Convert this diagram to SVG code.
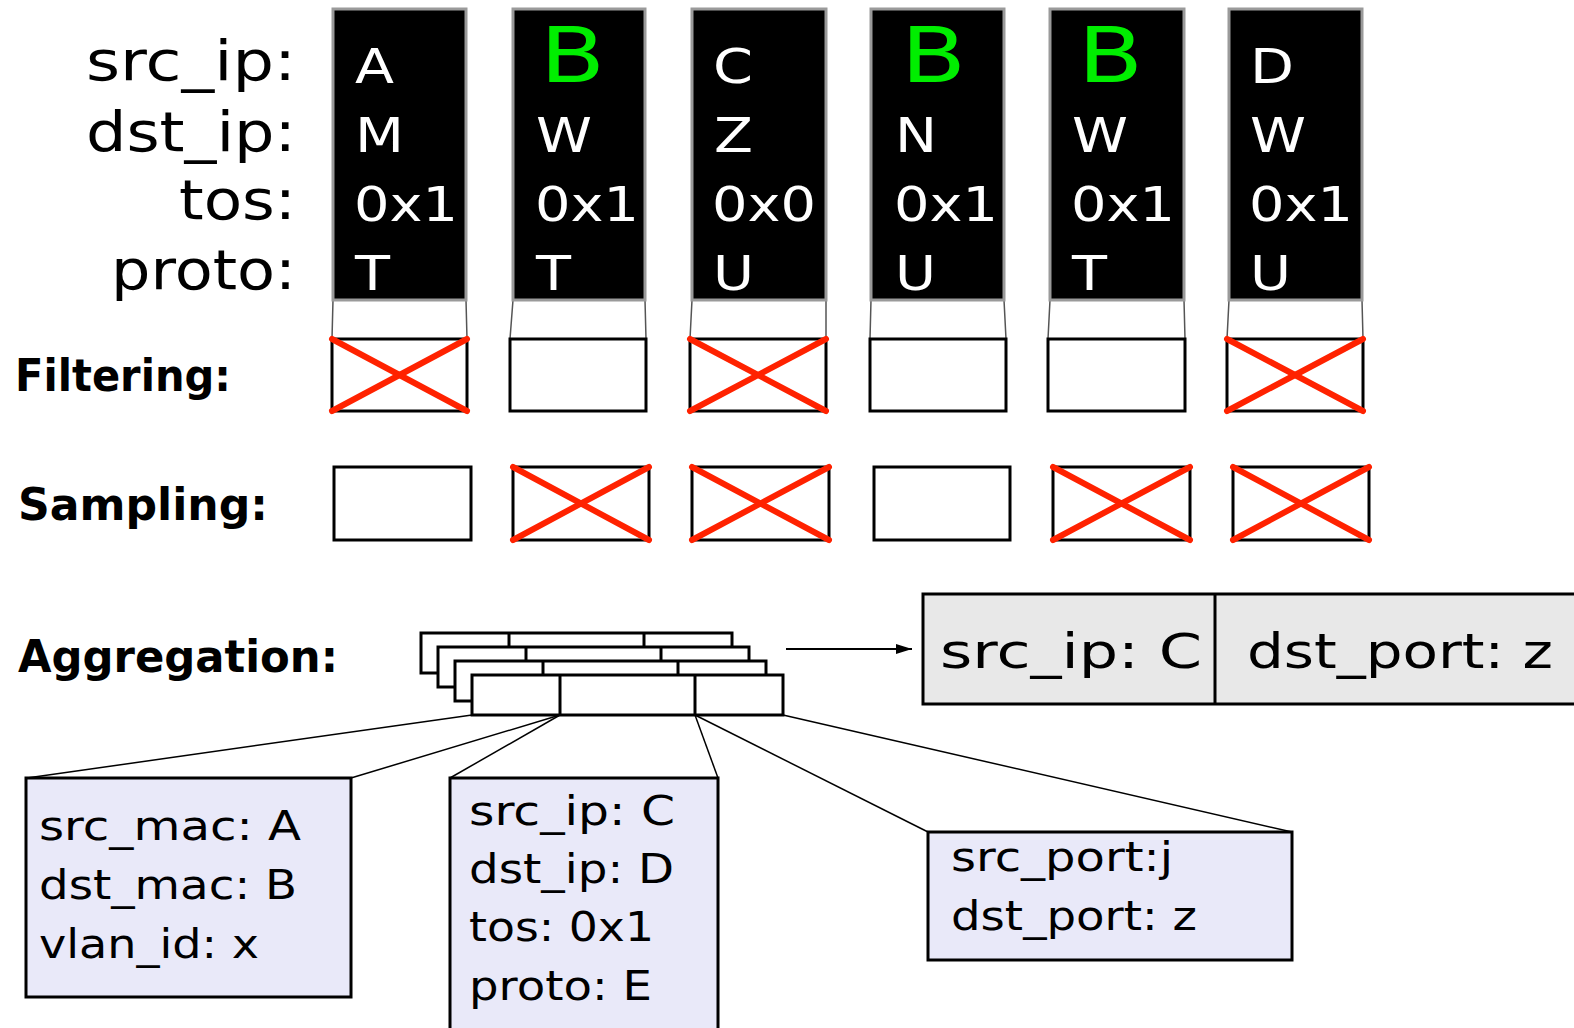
<svg xmlns="http://www.w3.org/2000/svg" width="1574" height="1028" viewBox="0 0 1574 1028">
<style>
text{font-family:"DejaVu Sans","Liberation Sans",sans-serif;}
.lbl{font-size:56px;fill:#000;text-anchor:end;}
.bold{font-size:45px;font-weight:bold;fill:#000;}
.pk{font-size:48px;fill:#fff;}
.gb{font-size:76px;fill:#00ee00;}
.bx{font-size:41px;fill:#000;}
.agg{font-size:48px;fill:#000;}
.blk{fill:#000;stroke:#9a9a9a;stroke-width:3;}
.trap{fill:#fff;stroke:#555;stroke-width:1.5;}
.box{fill:#fff;stroke:#000;stroke-width:3;}
.x{stroke:#ff2200;stroke-width:6;stroke-linecap:round;}
.info{fill:#e9e9f9;stroke:#000;stroke-width:3;}
.conn{stroke:#000;stroke-width:1.5;fill:none;}
</style>
<defs>
<marker id="ah" markerWidth="16" markerHeight="10" refX="16" refY="5" orient="auto" markerUnits="userSpaceOnUse" viewBox="0 0 16 10">
<path d="M0,0 L16,5 L0,10 z" fill="#000"/>
</marker>
</defs>

<g id="labels">
<text class="lbl" x="296" y="80" textLength="210" lengthAdjust="spacingAndGlyphs">src_ip:</text>
<text class="lbl" x="296" y="151" textLength="210" lengthAdjust="spacingAndGlyphs">dst_ip:</text>
<text class="lbl" x="296" y="219" textLength="117" lengthAdjust="spacingAndGlyphs">tos:</text>
<text class="lbl" x="296" y="289" textLength="185" lengthAdjust="spacingAndGlyphs">proto:</text>
<text class="bold" x="15" y="391" textLength="216" lengthAdjust="spacingAndGlyphs">Filtering:</text>
<text class="bold" x="18" y="520" textLength="250" lengthAdjust="spacingAndGlyphs">Sampling:</text>
<text class="bold" x="18" y="672" textLength="320" lengthAdjust="spacingAndGlyphs">Aggregation:</text>
</g>

<g id="packet1">
<polygon class="trap" points="333,300 466,300 467,339 332,339"/>
<rect class="blk" x="333" y="9" width="133" height="291"/>
<text class="pk" x="355" y="83" textLength="39" lengthAdjust="spacingAndGlyphs">A</text>
<text class="pk" x="355" y="152" textLength="49" lengthAdjust="spacingAndGlyphs">M</text>
<text class="pk" x="354" y="221" textLength="104" lengthAdjust="spacingAndGlyphs">0x1</text>
<text class="pk" x="355" y="290" textLength="35" lengthAdjust="spacingAndGlyphs">T</text>
</g>
<g id="packet2">
<polygon class="trap" points="513,300 645,300 646,339 510,339"/>
<rect class="blk" x="513" y="9" width="132" height="291"/>
<text class="gb" x="540" y="82" textLength="65" lengthAdjust="spacingAndGlyphs">B</text>
<text class="pk" x="536" y="152" textLength="56" lengthAdjust="spacingAndGlyphs">W</text>
<text class="pk" x="535" y="221" textLength="104" lengthAdjust="spacingAndGlyphs">0x1</text>
<text class="pk" x="536" y="290" textLength="35" lengthAdjust="spacingAndGlyphs">T</text>
</g>
<g id="packet3">
<polygon class="trap" points="692,300 826,300 826,339 690,339"/>
<rect class="blk" x="692" y="9" width="134" height="291"/>
<text class="pk" x="713" y="83" textLength="40" lengthAdjust="spacingAndGlyphs">C</text>
<text class="pk" x="714" y="152" textLength="39" lengthAdjust="spacingAndGlyphs">Z</text>
<text class="pk" x="712" y="221" textLength="104" lengthAdjust="spacingAndGlyphs">0x0</text>
<text class="pk" x="713" y="290" textLength="41" lengthAdjust="spacingAndGlyphs">U</text>
</g>
<g id="packet4">
<polygon class="trap" points="871,300 1004,300 1006,339 870,339"/>
<rect class="blk" x="871" y="9" width="133" height="291"/>
<text class="gb" x="901" y="82" textLength="65" lengthAdjust="spacingAndGlyphs">B</text>
<text class="pk" x="895" y="152" textLength="42" lengthAdjust="spacingAndGlyphs">N</text>
<text class="pk" x="894" y="221" textLength="104" lengthAdjust="spacingAndGlyphs">0x1</text>
<text class="pk" x="895" y="290" textLength="41" lengthAdjust="spacingAndGlyphs">U</text>
</g>
<g id="packet5">
<polygon class="trap" points="1050,300 1184,300 1185,339 1048,339"/>
<rect class="blk" x="1050" y="9" width="134" height="291"/>
<text class="gb" x="1078" y="82" textLength="65" lengthAdjust="spacingAndGlyphs">B</text>
<text class="pk" x="1072" y="152" textLength="56" lengthAdjust="spacingAndGlyphs">W</text>
<text class="pk" x="1071" y="221" textLength="104" lengthAdjust="spacingAndGlyphs">0x1</text>
<text class="pk" x="1072" y="290" textLength="35" lengthAdjust="spacingAndGlyphs">T</text>
</g>
<g id="packet6">
<polygon class="trap" points="1229,300 1362,300 1363,339 1227,339"/>
<rect class="blk" x="1229" y="9" width="133" height="291"/>
<text class="pk" x="1250" y="83" textLength="44" lengthAdjust="spacingAndGlyphs">D</text>
<text class="pk" x="1250" y="152" textLength="56" lengthAdjust="spacingAndGlyphs">W</text>
<text class="pk" x="1249" y="221" textLength="104" lengthAdjust="spacingAndGlyphs">0x1</text>
<text class="pk" x="1250" y="290" textLength="41" lengthAdjust="spacingAndGlyphs">U</text>
</g>

<g id="filtering">
<rect class="box" x="332" y="339" width="135" height="72"/>
<line class="x" x1="332" y1="339" x2="467" y2="411"/><line class="x" x1="467" y1="339" x2="332" y2="411"/>
<rect class="box" x="510" y="339" width="136" height="72"/>
<rect class="box" x="690" y="339" width="136" height="72"/>
<line class="x" x1="690" y1="339" x2="826" y2="411"/><line class="x" x1="826" y1="339" x2="690" y2="411"/>
<rect class="box" x="870" y="339" width="136" height="72"/>
<rect class="box" x="1048" y="339" width="137" height="72"/>
<rect class="box" x="1227" y="339" width="136" height="72"/>
<line class="x" x1="1227" y1="339" x2="1363" y2="411"/><line class="x" x1="1363" y1="339" x2="1227" y2="411"/>
</g>

<g id="sampling">
<rect class="box" x="334" y="467" width="137" height="73"/>
<rect class="box" x="513" y="467" width="136" height="73"/>
<line class="x" x1="513" y1="467" x2="649" y2="540"/><line class="x" x1="649" y1="467" x2="513" y2="540"/>
<rect class="box" x="692" y="467" width="137" height="73"/>
<line class="x" x1="692" y1="467" x2="829" y2="540"/><line class="x" x1="829" y1="467" x2="692" y2="540"/>
<rect class="box" x="874" y="467" width="136" height="73"/>
<rect class="box" x="1053" y="467" width="137" height="73"/>
<line class="x" x1="1053" y1="467" x2="1190" y2="540"/><line class="x" x1="1190" y1="467" x2="1053" y2="540"/>
<rect class="box" x="1233" y="467" width="136" height="73"/>
<line class="x" x1="1233" y1="467" x2="1369" y2="540"/><line class="x" x1="1369" y1="467" x2="1233" y2="540"/>
</g>

<g id="aggregation-stack">
<g transform="translate(-51,-42)"><rect class="box" x="472" y="675" width="311" height="40"/><line class="box" x1="560" y1="675" x2="560" y2="715"/><line class="box" x1="695" y1="675" x2="695" y2="715"/></g>
<g transform="translate(-34,-28)"><rect class="box" x="472" y="675" width="311" height="40"/><line class="box" x1="560" y1="675" x2="560" y2="715"/><line class="box" x1="695" y1="675" x2="695" y2="715"/></g>
<g transform="translate(-17,-14)"><rect class="box" x="472" y="675" width="311" height="40"/><line class="box" x1="560" y1="675" x2="560" y2="715"/><line class="box" x1="695" y1="675" x2="695" y2="715"/></g>
<rect class="box" x="472" y="675" width="311" height="40"/><line class="box" x1="560" y1="675" x2="560" y2="715"/><line class="box" x1="695" y1="675" x2="695" y2="715"/>
</g>

<g id="result">
<rect x="923" y="594" width="700" height="110" fill="#e8e8e8" stroke="#000" stroke-width="3"/>
<line x1="1215" y1="594" x2="1215" y2="704" stroke="#000" stroke-width="3"/>
<text class="agg" x="940" y="668" textLength="262" lengthAdjust="spacingAndGlyphs">src_ip: C</text>
<text class="agg" x="1247" y="668" textLength="306" lengthAdjust="spacingAndGlyphs">dst_port: z</text>
</g>

<g id="l2box">
<rect class="info" x="26" y="778" width="325" height="219"/>
<text class="bx" x="39" y="840" textLength="262" lengthAdjust="spacingAndGlyphs">src_mac: A</text>
<text class="bx" x="39" y="899" textLength="258" lengthAdjust="spacingAndGlyphs">dst_mac: B</text>
<text class="bx" x="39" y="958" textLength="220" lengthAdjust="spacingAndGlyphs">vlan_id: x</text>
</g>
<g id="l3box">
<rect class="info" x="450" y="778" width="268" height="260"/>
<text class="bx" x="469" y="825" textLength="206" lengthAdjust="spacingAndGlyphs">src_ip: C</text>
<text class="bx" x="469" y="883" textLength="205" lengthAdjust="spacingAndGlyphs">dst_ip: D</text>
<text class="bx" x="469" y="941" textLength="185" lengthAdjust="spacingAndGlyphs">tos: 0x1</text>
<text class="bx" x="469" y="1000" textLength="183" lengthAdjust="spacingAndGlyphs">proto: E</text>
</g>
<g id="l4box">
<rect class="info" x="928" y="832" width="364" height="128"/>
<text class="bx" x="951" y="871" textLength="222" lengthAdjust="spacingAndGlyphs">src_port:j</text>
<text class="bx" x="951" y="930" textLength="246" lengthAdjust="spacingAndGlyphs">dst_port: z</text>
</g>

<g id="connectors">
<line class="conn" x1="472" y1="715" x2="27" y2="778"/>
<line class="conn" x1="560" y1="715" x2="351" y2="778"/>
<line class="conn" x1="560" y1="715" x2="450" y2="778"/>
<line class="conn" x1="695" y1="715" x2="718" y2="778"/>
<line class="conn" x1="695" y1="715" x2="928" y2="832"/>
<line class="conn" x1="783" y1="715" x2="1292" y2="832"/>
<line x1="786" y1="649" x2="912" y2="649" stroke="#000" stroke-width="2" marker-end="url(#ah)"/>
</g>
</svg>
